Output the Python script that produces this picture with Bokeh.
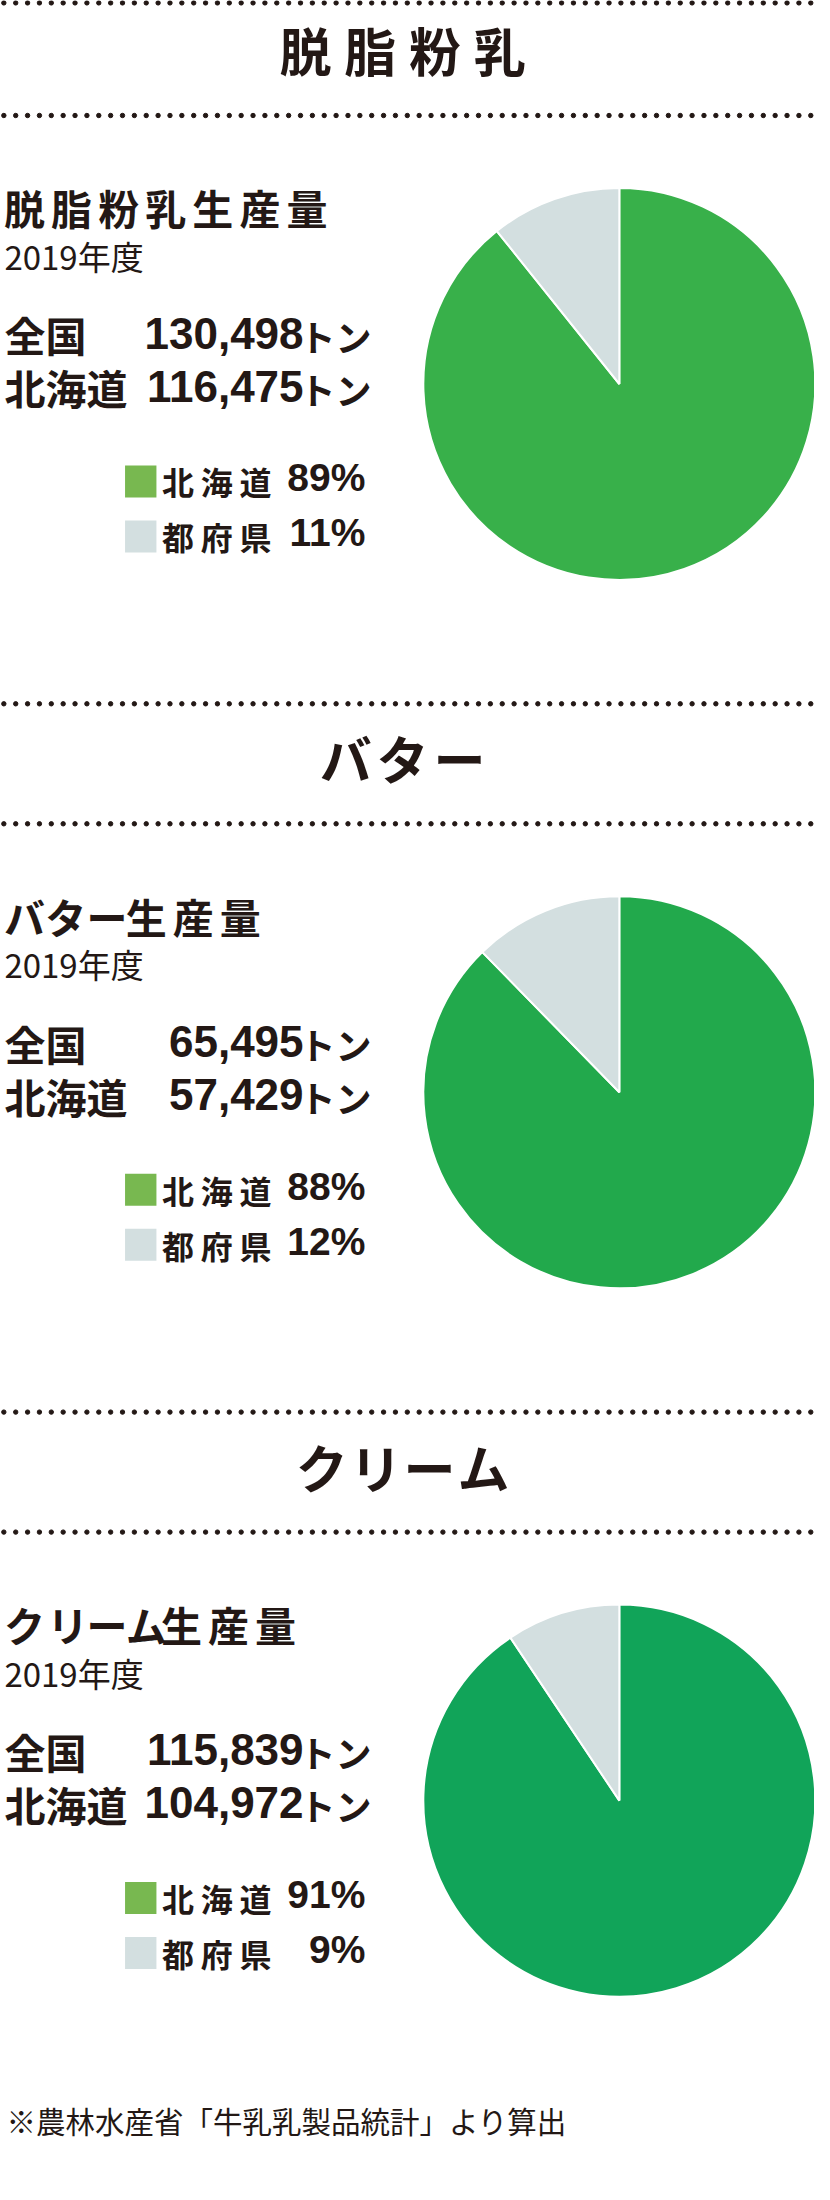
import numpy as np
from bokeh.plotting import figure
from bokeh.models import Range1d
from bokeh.core.properties import value
from bokeh.embed import file_html
from bokeh.resources import INLINE

# ---------------- data ----------------
titles = ["脱脂粉乳", "バター", "クリーム"]
headings = ["脱脂粉乳生産量", "バター生産量", "クリーム生産量"]
year_label = "2019年度"
row_labels = ["全国", "北海道"]
national_t = [130498, 65495, 115839]
hokkaido_t = [116475, 57429, 104972]
legend_labels = ["北海道", "都府県"]
hokkaido_pct = [89, 88, 91]
others_pct = [11, 12, 9]
unit = "トン"
footer = "※農林水産省「牛乳乳製品統計」より算出"

# ---------------- layout / style ----------------
W_REF = 830
PW, PH = 814, 2184
TOP = 8          # page margin: reference y == screen y

INK = "#231815"
GREEN_LEG = "#78B850"
GRAY = "#D3DFE0"
PIE_GREENS = ["#38B04A", "#22A94C", "#11A459"]
CJK = "Noto Sans CJK JP"
LAT = "Liberation Sans"
SECTION = 708.3
TITLE_PITCH = [66, 58, 55]
ADV = {"ク": 44, "リ": 40, "ー": 40, "ム": 36, "バ": 42, "タ": 42}
BASE_SHIFT = 0.44   # renderer places alphabetic text ~0.44em low

p = figure(width=PW, height=PH, x_range=Range1d(0, W_REF), y_range=Range1d(0, PH),
           output_backend="svg", toolbar_location=None, min_border=0)
p.axis.visible = False
p.grid.visible = False
p.outline_line_color = None
p.background_fill_color = "white"
p.border_fill_color = "white"


def Y(v):
    return PH - (v - TOP)


def txt(xs, base, strs, size, font=CJK, bold=True, align="left"):
    y = base - BASE_SHIFT * size
    p.text(x=list(xs), y=[Y(y)] * len(strs), text=list(strs), text_font=value(font),
           text_font_size=f"{size}px", text_font_style="bold" if bold else "normal",
           text_color=INK, text_align=align, text_baseline="alphabetic")


dot_x = np.arange(3.4, 830, 12.1)

for k in range(3):
    o = k * SECTION
    # dotted rules
    for yy in (3, 123):
        yv = max(yy + o, TOP + 2.4)
        p.scatter(dot_x, [Y(yv)] * len(dot_x), size=4.4, color=INK, marker="circle")
    # big title, letter-spaced
    t = titles[k]
    n = len(t)
    cx = [410 + (i - (n - 1) / 2) * TITLE_PITCH[k] for i in range(n)]
    txt(cx, 80 + o, list(t), 52, align="center")
    # heading, letter-spaced
    h = headings[k]
    centers = []
    c = 24.5
    for ch in h:
        centers.append(c)
        c += ADV.get(ch, 48)
    txt(centers, 233 + o, list(h), 41, align="center")
    # year
    txt([4], 278 + o, [year_label], 33, bold=False)
    # rows
    vals = [national_t[k], hokkaido_t[k]]
    for j, (lab, v) in enumerate(zip(row_labels, vals)):
        base = 360 + o + j * 53
        txt([4], base, [lab], 41)
        txt([309], base, [f"{v:,}"], 44, font=LAT, align="right")
        txt([305], base - 1, [unit], 36)
    # legend
    pcts = [hokkaido_pct[k], others_pct[k]]
    cols = [GREEN_LEG, GRAY]
    for j in range(2):
        top = 473 + o + j * 55
        p.quad(left=[127], right=[159], top=[Y(top)], bottom=[Y(top + 32)],
               fill_color=cols[j], line_color=None)
        lab = legend_labels[j]
        txt([181 + i * 39.5 for i in range(len(lab))], top + 30, list(lab), 32, align="center")
        txt([372], top + 29.5, [f"{pcts[j]}%"], 39, font=LAT, align="right")
    # pie
    share = hokkaido_t[k] / national_t[k]
    g = (1 - share) * 2 * np.pi
    pcx, pcy, r = 631, 391.5 + o, 196
    p.wedge(x=[pcx], y=[Y(pcy)], radius=r, radius_units="screen",
            start_angle=np.pi / 2 + g, end_angle=np.pi / 2 + 2 * np.pi,
            direction="anticlock", fill_color=PIE_GREENS[k], line_color="white", line_width=2)
    p.wedge(x=[pcx], y=[Y(pcy)], radius=r, radius_units="screen",
            start_angle=np.pi / 2, end_angle=np.pi / 2 + g,
            direction="anticlock", fill_color=GRAY, line_color="white", line_width=2)

txt([6], 2140, [footer], 29.5, bold=False)

open("out.html", "w").write(file_html(p, INLINE))
